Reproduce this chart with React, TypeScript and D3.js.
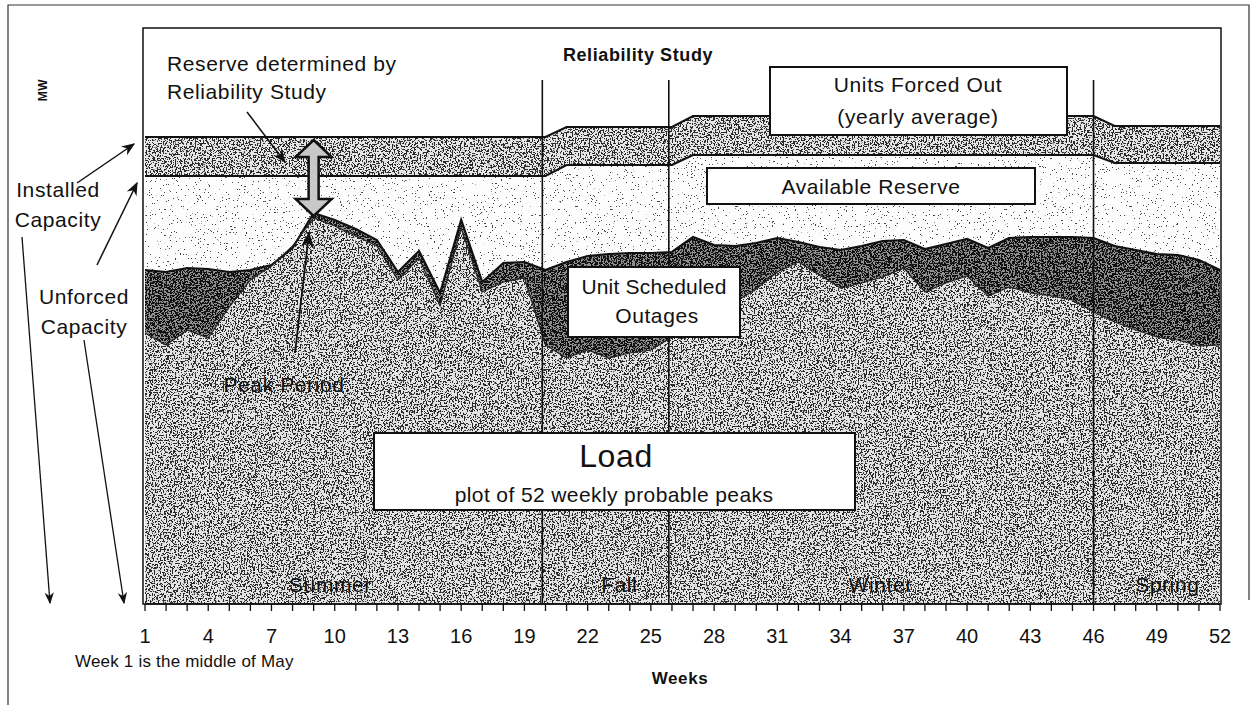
import React from 'react';
import * as d3 from 'd3';

// weekly values, MW (index scale)
const weeks = d3.range(1, 53);
const tickWeeks = [1, 4, 7, 10, 13, 16, 19, 22, 25, 28, 31, 34, 37, 40, 43, 46, 49, 52];

const load = [
  2710, 2590, 2740, 2660, 2970, 3240, 3380, 3580, 3860, 3780,
  3680, 3580, 3240, 3460, 2980, 3760, 3120, 3220, 3260, 2590,
  2460, 2540, 2460, 2510, 2540, 2670, 2840, 2940, 3020, 3150,
  3320, 3420, 3290, 3160, 3210, 3270, 3360, 3120, 3210, 3280,
  3080, 3170, 3110, 3080, 3040, 2920, 2820, 2740, 2670, 2640,
  2580, 2590,
];

// load + unit scheduled outages
const scheduled = [
  3340, 3320, 3360, 3350, 3320, 3340, 3390, 3560, 3910, 3840,
  3750, 3640, 3320, 3530, 3110, 3840, 3220, 3410, 3420, 3340,
  3420, 3480, 3500, 3510, 3510, 3520, 3670, 3590, 3580, 3610,
  3660, 3620, 3570, 3540, 3580, 3630, 3640, 3550, 3600, 3650,
  3560, 3660, 3670, 3670, 3670, 3660, 3580, 3540, 3500, 3490,
  3440, 3340,
];

const unforced = [
  4280, 4280, 4280, 4280, 4280, 4280, 4280, 4280, 4280, 4280,
  4280, 4280, 4280, 4280, 4280, 4280, 4280, 4280, 4280, 4280,
  4390, 4390, 4390, 4390, 4390, 4390, 4490, 4490, 4490, 4490,
  4490, 4490, 4490, 4490, 4490, 4490, 4490, 4490, 4490, 4490,
  4490, 4490, 4490, 4490, 4490, 4490, 4410, 4410, 4410, 4410,
  4410, 4410,
];

const installed = [
  4670, 4670, 4670, 4670, 4670, 4670, 4670, 4670, 4670, 4670,
  4670, 4670, 4670, 4670, 4670, 4670, 4670, 4670, 4670, 4670,
  4770, 4770, 4770, 4770, 4770, 4770, 4880, 4880, 4880, 4880,
  4880, 4880, 4880, 4880, 4880, 4880, 4880, 4880, 4880, 4880,
  4880, 4880, 4880, 4880, 4880, 4880, 4780, 4780, 4780, 4780,
  4780, 4780,
];

const seasons = ['Summer', 'Fall', 'Winter', 'Spring'];
const seasonMid = [9.8, 23.5, 35.9, 49.5];
const seasonBreaks = [19.85, 25.85, 46];
const peakWeek = 9;

const FONT = '"Liberation Sans", Arial, sans-serif';

function Speckle({ id, seed, dot, thr }: { id: string; seed: number; dot: string; thr: number }) {
  return (
    <filter id={id} x="0" y="0" width="1" height="1" colorInterpolationFilters="sRGB">
      <feTurbulence type="fractalNoise" baseFrequency="0.65" numOctaves={2} seed={seed} result="noise" />
      <feColorMatrix in="noise" type="matrix"
        values={`0 0 0 0 0  0 0 0 0 0  0 0 0 0 0  -40 0 0 0 ${40 * thr}`} result="mask" />
      <feFlood floodColor={dot} result="ink" />
      <feComposite in="ink" in2="mask" operator="in" result="dots" />
      <feComposite in="dots" in2="SourceGraphic" operator="in" result="clipped" />
      <feMerge>
        <feMergeNode in="SourceGraphic" />
        <feMergeNode in="clipped" />
      </feMerge>
    </filter>
  );
}

export default function App() {
  const x = d3.scaleLinear().domain([1, 52]).range([145, 1220]);
  const y = d3.scaleLinear().domain([0, 5760]).range([604, 28]);

  const band = (lo: number[] | null, hi: number[]) =>
    d3.area<number>()
      .x((w) => x(w))
      .y0((w, i) => (lo ? y(lo[i]) : y(0)))
      .y1((w, i) => y(hi[i]))(weeks) as string;
  const line = (vals: number[]) =>
    d3.line<number>().x((w) => x(w)).y((w, i) => y(vals[i]))(weeks) as string;

  // double arrow: reserve between installed capacity and peak
  const ax = x(peakWeek);
  const aTop = y(installed[peakWeek - 1]) + 3;
  const aBot = y(scheduled[peakWeek - 1]) + 3;
  const sw = 5, hw = 18, hh = 17;
  const dbl = `M${ax},${aTop} L${ax + hw},${aTop + hh} L${ax + sw},${aTop + hh} L${ax + sw},${aBot - hh}
    L${ax + hw},${aBot - hh} L${ax},${aBot} L${ax - hw},${aBot - hh} L${ax - sw},${aBot - hh}
    L${ax - sw},${aTop + hh} L${ax - hw},${aTop + hh} Z`;

  const txt = { fontFamily: FONT, fill: '#111', letterSpacing: 0.6 } as const;
  const fs = 21;

  return (
    <div style={{ position: 'absolute', left: 0, top: 0 }}>
      <svg width={1257} height={705} style={{ display: 'block', background: '#fff' }}>
        <defs>
          <Speckle id="sp-forced" seed={3} dot="#2a2a2a" thr={0.47} />
          <Speckle id="sp-reserve" seed={7} dot="#444" thr={0.3} />
          <Speckle id="sp-sched" seed={11} dot="#111" thr={0.53} />
          <Speckle id="sp-load" seed={17} dot="#2a2a2a" thr={0.465} />
          <marker id="ah" viewBox="0 0 10 10" refX="9" refY="5" markerWidth="9" markerHeight="9" orient="auto-start-reverse">
            <path d="M0,1 L10,5 L0,9 L3,5 Z" fill="#111" />
          </marker>
        </defs>

        {/* outer frame */}
        <path d="M8,705 L8,5 L1249,5 L1249,600" fill="none" stroke="#333" strokeWidth={1.2} />

        {/* stacked regions */}
        <path d={band(unforced, installed)} fill="#e6e6e6" filter="url(#sp-forced)" />
        <path d={band(scheduled, unforced)} fill="#fdfdfd" filter="url(#sp-reserve)" />
        <path d={band(load, scheduled)} fill="#909090" filter="url(#sp-sched)" />
        <path d={band(null, load)} fill="#e4e4e4" filter="url(#sp-load)" />

        <path d={line(installed)} fill="none" stroke="#111" strokeWidth={2} />
        <path d={line(unforced)} fill="none" stroke="#111" strokeWidth={2} />
        <path d={line(scheduled)} fill="none" stroke="#111" strokeWidth={2.2} />
        <path d={line(load)} fill="none" stroke="#222" strokeWidth={1.2} />

        {/* season dividers */}
        {seasonBreaks.map((b) => (
          <line key={b} x1={x(b)} x2={x(b)} y1={y(5240)} y2={y(0)} stroke="#111" strokeWidth={1.6} />
        ))}

        {/* plot frame */}
        <rect x={143} y={28} width={1078} height={576} fill="none" stroke="#111" strokeWidth={1.5} />

        {/* x axis */}
        <line x1={x(1)} x2={x(52)} y1={y(0)} y2={y(0)} stroke="#111" strokeWidth={1.5} />
        {weeks.map((w) => (
          <line key={w} x1={x(w)} x2={x(w)} y1={y(0)} y2={y(0) + 7} stroke="#111" strokeWidth={1.3} />
        ))}
        {tickWeeks.map((w) => (
          <text key={w} x={x(w)} y={643} textAnchor="middle" fontSize={20} fontFamily={FONT} fill="#111">{w}</text>
        ))}
        <text x={75} y={667} fontSize={17} {...txt} letterSpacing={0.2}>Week 1 is the middle of May</text>
        <text x={680} y={684} textAnchor="middle" fontSize={17} fontWeight="bold" {...txt}>Weeks</text>
        <text transform="translate(47,90) rotate(-90)" textAnchor="middle" fontSize={12} fontWeight="bold" {...txt}>MW</text>

        {/* title */}
        <text x={638} y={61} textAnchor="middle" fontSize={18} fontWeight="bold" {...txt}>Reliability Study</text>

        {/* season labels */}
        {seasons.map((s, i) => (
          <text key={s} x={x(seasonMid[i])} y={592} textAnchor="middle" fontSize={fs} {...txt}>{s}</text>
        ))}

        {/* reserve annotation */}
        <text x={167} y={71} fontSize={fs} {...txt}>Reserve determined by</text>
        <text x={167} y={99} fontSize={fs} {...txt}>Reliability Study</text>
        <line x1={247} y1={112} x2={285} y2={162} stroke="#111" strokeWidth={1.5} markerEnd="url(#ah)" />
        <path d={dbl} fill="#c8c8c8" stroke="#111" strokeWidth={2.5} strokeLinejoin="miter" />

        {/* peak period */}
        <text x={284} y={392} textAnchor="middle" fontSize={fs} {...txt}>Peak Period</text>
        <line x1={295} y1={353} x2={309} y2={233} stroke="#111" strokeWidth={1.8} markerEnd="url(#ah)" />

        {/* left capacity labels */}
        <text x={58} y={197} textAnchor="middle" fontSize={fs} {...txt}>Installed</text>
        <text x={58} y={227} textAnchor="middle" fontSize={fs} {...txt}>Capacity</text>
        <text x={84} y={304} textAnchor="middle" fontSize={fs} {...txt}>Unforced</text>
        <text x={84} y={334} textAnchor="middle" fontSize={fs} {...txt}>Capacity</text>
        <line x1={77} y1={183} x2={134} y2={144} stroke="#111" strokeWidth={1.5} markerEnd="url(#ah)" />
        <line x1={97} y1={265} x2={137} y2={183} stroke="#111" strokeWidth={1.5} markerEnd="url(#ah)" />
        <line x1={22} y1={237} x2={50} y2={603} stroke="#111" strokeWidth={1.3} markerEnd="url(#ah)" />
        <line x1={84} y1={340} x2={124} y2={603} stroke="#111" strokeWidth={1.3} markerEnd="url(#ah)" />

        {/* boxes */}
        <rect x={770} y={67} width={297} height={68} fill="#fff" stroke="#111" strokeWidth={2} />
        <text x={918} y={92} textAnchor="middle" fontSize={fs} {...txt}>Units Forced Out</text>
        <text x={918} y={124} textAnchor="middle" fontSize={fs} {...txt}>(yearly average)</text>

        <rect x={707} y={168} width={328} height={36} fill="#fff" stroke="#111" strokeWidth={2} />
        <text x={871} y={194} textAnchor="middle" fontSize={fs} {...txt}>Available Reserve</text>

        <rect x={568} y={267} width={172} height={70} fill="#fff" stroke="#111" strokeWidth={2} />
        <text x={654} y={294} textAnchor="middle" fontSize={fs} {...txt} letterSpacing={0.2}>Unit Scheduled</text>
        <text x={657} y={323} textAnchor="middle" fontSize={fs} {...txt}>Outages</text>

        <rect x={374} y={433} width={481} height={77} fill="#fff" stroke="#111" strokeWidth={2} />
        <text x={616} y={467} textAnchor="middle" fontSize={32} {...txt}>Load</text>
        <text x={614} y={502} textAnchor="middle" fontSize={fs} {...txt} letterSpacing={0.4}>plot of 52 weekly probable peaks</text>
      </svg>
    </div>
  );
}
